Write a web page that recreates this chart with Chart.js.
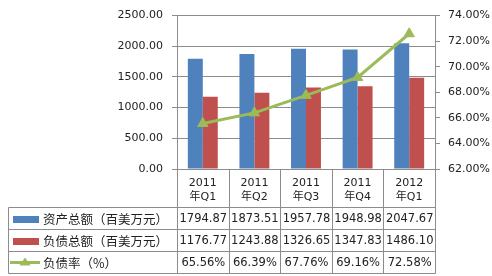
<!DOCTYPE html>
<html><head><meta charset="utf-8">
<script src="https://cdn.jsdelivr.net/npm/chart.js@4/dist/chart.umd.min.js"></script>
<style>html,body{margin:0;padding:0;background:#fff}canvas{display:block}</style>
</head><body>
<canvas id="c" width="492" height="276" style="width:492px;height:276px"></canvas>
<script>
const categories = [['2011','年Q1'],['2011','年Q2'],['2011','年Q3'],['2011','年Q4'],['2012','年Q1']];
const seriesNames = ['资产总额（百美万元）','负债总额（百美万元）','负债率（%）'];
const totalAssets = [1794.87,1873.51,1957.78,1948.98,2047.67];
const totalLiabilities = [1176.77,1243.88,1326.65,1347.83,1486.10];
const debtRatio = [65.56,66.39,67.76,69.16,72.58];
const leftAxisRange = [0,2500,500];
const rightAxisRange = [62,74,2];

const BLUE='#4F81BD', RED='#C0504D', GREEN='#9BBB59', GRID='#8c8c8c', TXT='#222';
const NUMFONT='"DejaVu Sans","Noto Sans CJK SC",sans-serif';
const CJKFONT='"Noto Sans CJK SC","DejaVu Sans",sans-serif';

const tablePlugin = {
  id:'dataTable',
  afterDraw(chart){
    const ctx=chart.ctx, a=chart.chartArea, xs=chart.scales.x;
    const n=categories.length;
    const cw=xs.getPixelForValue(1)-xs.getPixelForValue(0);
    const colL=i=>xs.getPixelForValue(i)-cw/2;
    const tLeft=8.5, right=Math.round(colL(n))+0.5;
    const headBottom=Math.round(a.bottom+38)+0.5, rowH=22;
    const bottom=headBottom+3*rowH;
    ctx.save();
    ctx.strokeStyle=GRID; ctx.lineWidth=1;
    ctx.beginPath();
    for(let i=0;i<=n;i++){const x=Math.round(colL(i))+0.5; ctx.moveTo(x,a.bottom); ctx.lineTo(x,bottom);}
    ctx.moveTo(tLeft,headBottom); ctx.lineTo(tLeft,bottom);
    for(let r=0;r<=3;r++){const y=headBottom+r*rowH; ctx.moveTo(tLeft,y); ctx.lineTo(right,y);}
    ctx.stroke();
    const rows=[totalAssets.map(v=>v.toFixed(2)), totalLiabilities.map(v=>v.toFixed(2)), debtRatio.map(v=>v.toFixed(2)+'%')];
    ctx.fillStyle=TXT; ctx.textBaseline='middle';
    for(let r=0;r<3;r++){
      const cy=headBottom+r*rowH+rowH/2;
      ctx.font='11.5px '+NUMFONT; ctx.textAlign='center'; ctx.fillStyle=TXT;
      for(let i=0;i<n;i++){ ctx.fillText(rows[r][i], xs.getPixelForValue(i)+0.5, cy+0.5); }
      if(r<2){ ctx.fillStyle=r===0?BLUE:RED; ctx.fillRect(13,Math.round(cy)-3,26,7); }
      else {
        ctx.strokeStyle=GREEN; ctx.lineWidth=3; ctx.beginPath(); ctx.moveTo(10,cy); ctx.lineTo(40,cy); ctx.stroke();
        ctx.fillStyle=GREEN; ctx.beginPath(); ctx.moveTo(25,cy-5); ctx.lineTo(30.5,cy+3); ctx.lineTo(19.5,cy+3); ctx.closePath(); ctx.fill();
      }
      ctx.fillStyle=TXT; ctx.font='12.5px '+CJKFONT; ctx.textAlign='left';
      ctx.fillText(seriesNames[r], 43, cy+0.5);
    }
    ctx.restore();
  }
};

Chart.defaults.font.family=NUMFONT;
Chart.defaults.font.size=11;
Chart.defaults.color=TXT;

new Chart(document.getElementById('c'),{
  type:'bar',
  data:{
    labels:categories,
    datasets:[
      {label:seriesNames[0],data:totalAssets,backgroundColor:BLUE,yAxisID:'y',order:2,categoryPercentage:0.58,barPercentage:1},
      {label:seriesNames[1],data:totalLiabilities,backgroundColor:RED,yAxisID:'y',order:3,categoryPercentage:0.58,barPercentage:1},
      {type:'line',label:seriesNames[2],data:debtRatio,yAxisID:'y1',order:0,borderColor:GREEN,backgroundColor:GREEN,borderWidth:3,
       pointStyle:'triangle',pointRadius:6,pointBorderWidth:1,tension:0}
    ]
  },
  options:{
    responsive:false, animation:false, devicePixelRatio:1,
    layout:{padding:{top:9,left:0,right:0,bottom:0}},
    plugins:{legend:{display:false},tooltip:{enabled:false}},
    scales:{
      x:{
        grid:{display:false,drawTicks:false},
        border:{display:false},
        ticks:{padding:7,maxRotation:0,autoSkip:false,font:{size:11,lineHeight:1.3,family:NUMFONT}},
        afterFit(s){s.height=107;}
      },
      y:{
        position:'left', min:leftAxisRange[0], max:leftAxisRange[1],
        grid:{color:GRID,tickLength:5},
        border:{color:GRID},
        ticks:{stepSize:leftAxisRange[2],padding:9,callback:v=>v.toFixed(2)},
        afterFit(s){s.width=177;}
      },
      y1:{
        position:'right', min:rightAxisRange[0], max:rightAxisRange[1],
        grid:{drawOnChartArea:false,color:GRID,tickLength:5},
        border:{color:GRID},
        ticks:{stepSize:rightAxisRange[2],padding:8,callback:v=>v.toFixed(2)+'%'},
        afterFit(s){s.width=57;}
      }
    }
  },
  plugins:[tablePlugin]
});
</script>
</body></html>
